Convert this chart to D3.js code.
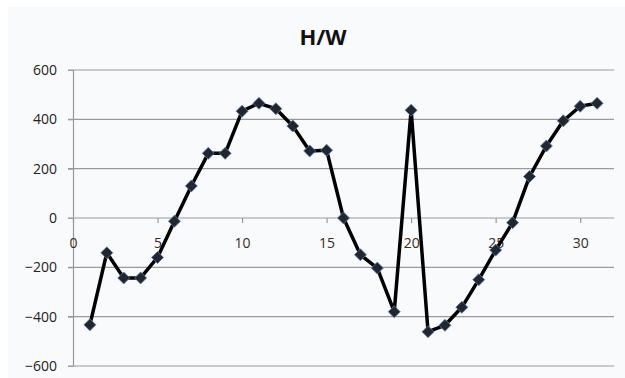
<!DOCTYPE html>
<html>
<head>
<meta charset="utf-8">
<script src="https://cdn.jsdelivr.net/npm/d3@7"></script>
<style>
  body { margin: 0; background: #fff; }
  svg { display: block; }
</style>
</head>
<body>
<svg id="chart"></svg>
<script>
const width = 625;
const height = 378;

// data
const days = d3.range(1, 32);
const hwValues = [-433, -141, -243, -243, -160, -13, 130, 262, 262, 433,
  465, 443, 373, 272, 275, 0, -149, -203, -380, 437,
  -461, -435, -362, -250, -130, -19, 168, 292, 394, 453, 465];
const yTicks = [-600, -400, -200, 0, 200, 400, 600];
const xTicks = [0, 5, 10, 15, 20, 25, 30];

const svg = d3.select("#chart")
  .attr("width", width)
  .attr("height", height);

// chart area background
svg.append("rect")
  .attr("x", 8).attr("y", 7)
  .attr("width", width - 8).attr("height", height - 7)
  .attr("fill", "#f8fafc");

const plotLeft = 73, plotRight = 614, plotTop = 70, plotBottom = 366;

const x = d3.scaleLinear().domain([0, 32]).range([plotLeft, plotRight]);
const y = d3.scaleLinear().domain([-600, 600]).range([plotBottom, plotTop]);

const font = "'Open Sans', 'Noto Sans', sans-serif";

// title
svg.append("text")
  .attr("x", 323).attr("y", 45)
  .attr("text-anchor", "middle")
  .attr("font-family", font)
  .attr("font-weight", "bold")
  .attr("font-size", 22)
  .attr("fill", "#111")
  .text("H/W");

// gridlines
svg.append("g")
  .selectAll("line")
  .data(yTicks)
  .enter().append("line")
  .attr("x1", plotLeft - 5).attr("x2", plotRight)
  .attr("y1", d => y(d)).attr("y2", d => y(d))
  .attr("stroke", "#9a9a9a")
  .attr("stroke-width", 1.2);

// y axis
const yAxis = svg.append("g")
  .attr("transform", `translate(${plotLeft},0)`)
  .call(d3.axisLeft(y).tickValues(yTicks).tickSize(5).tickPadding(11));
yAxis.select(".domain").attr("stroke", "#9a9a9a").attr("stroke-width", 1.2);
yAxis.selectAll(".tick line").attr("stroke", "#9a9a9a");
yAxis.selectAll("text")
  .attr("font-family", font).attr("font-size", 14).attr("fill", "#222");

// x axis at zero
const xAxis = svg.append("g")
  .attr("transform", `translate(0,${y(0)})`)
  .call(d3.axisBottom(x).tickValues(xTicks).tickSize(5).tickSizeOuter(0).tickPadding(15));
xAxis.select(".domain").remove();
xAxis.selectAll(".tick line").attr("stroke", "#9a9a9a").attr("stroke-width", 1.2);
xAxis.selectAll("text")
  .attr("font-family", font).attr("font-size", 14).attr("fill", "#3a2a1a");

const points = days.map((d, i) => ({ day: d, value: hwValues[i] }));

// line
svg.append("path")
  .datum(points)
  .attr("fill", "none")
  .attr("stroke", "#000")
  .attr("stroke-width", 3.5)
  .attr("stroke-linejoin", "round")
  .attr("d", d3.line().x(d => x(d.day)).y(d => y(d.value)));

// diamond markers
svg.append("g")
  .selectAll("path")
  .data(points)
  .enter().append("path")
  .attr("transform", d => `translate(${x(d.day)},${y(d.value)})`)
  .attr("d", "M0,-6L6,0L0,6L-6,0Z")
  .attr("fill", "#22262f")
  .attr("stroke", "#5a7fb0")
  .attr("stroke-width", 0.8);
</script>
</body>
</html>
